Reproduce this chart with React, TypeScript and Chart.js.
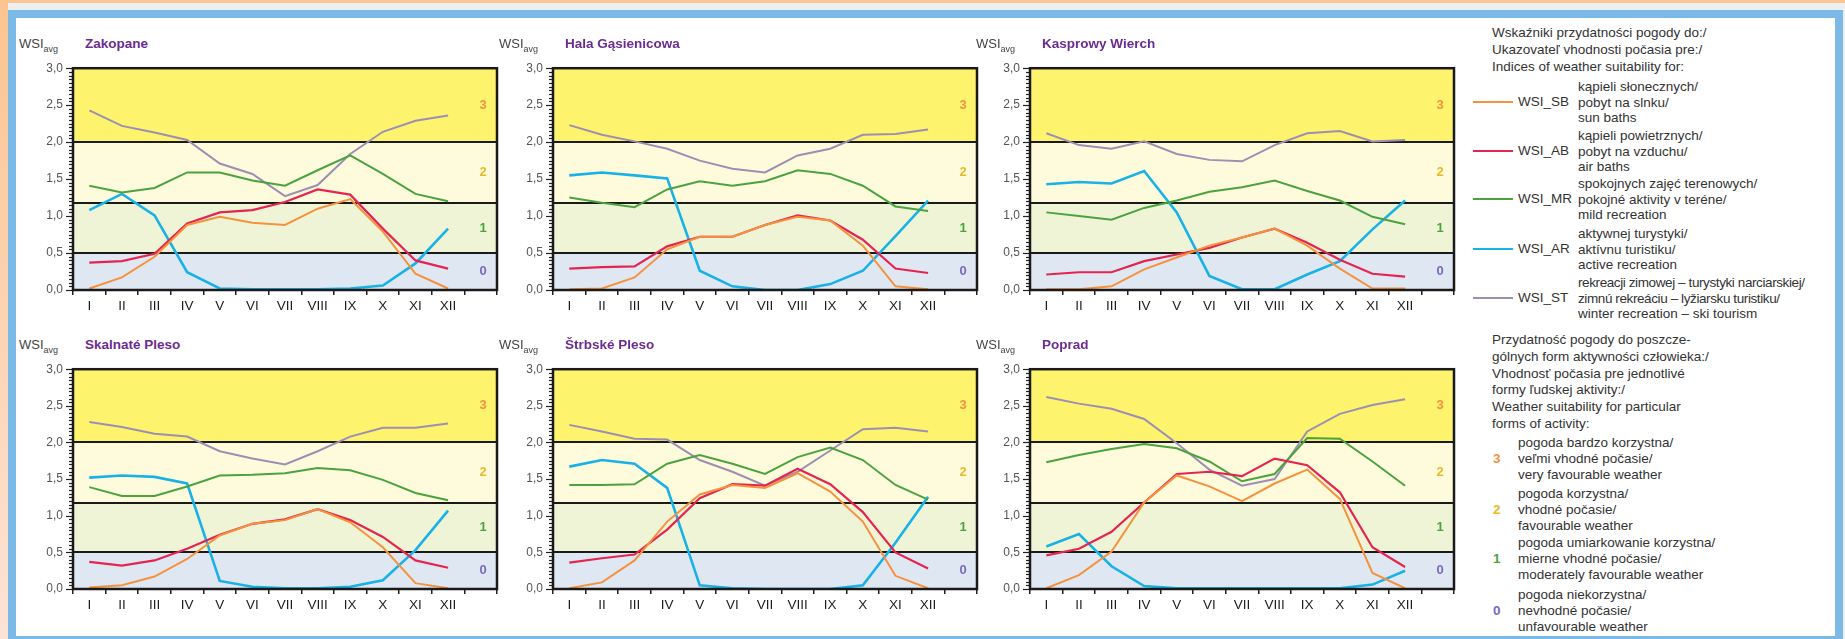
import React, { useEffect, useRef } from 'react';
import { Chart, registerables } from 'chart.js';

Chart.register(...registerables);

// ---------- data ----------
const months = ['I', 'II', 'III', 'IV', 'V', 'VI', 'VII', 'VIII', 'IX', 'X', 'XI', 'XII', ''];
const bandEdges = [0, 0.5, 1.17, 2.0, 3.0];
const bandLabels = ['0', '1', '2', '3'];
const seriesNames = ['WSI_SB', 'WSI_AB', 'WSI_MR', 'WSI_AR', 'WSI_ST'];

const zakopaneSB = [0.02, 0.17, 0.45, 0.88, 0.99, 0.91, 0.88, 1.10, 1.23, 0.79, 0.22, 0.02];
const zakopaneAB = [0.37, 0.39, 0.49, 0.90, 1.05, 1.08, 1.19, 1.36, 1.29, 0.83, 0.40, 0.29];
const zakopaneMR = [1.41, 1.32, 1.38, 1.59, 1.59, 1.48, 1.41, 1.62, 1.82, 1.57, 1.30, 1.20];
const zakopaneAR = [1.08, 1.30, 1.01, 0.24, 0.02, 0.01, 0.01, 0.01, 0.02, 0.06, 0.36, 0.83];
const zakopaneST = [2.43, 2.22, 2.13, 2.03, 1.71, 1.57, 1.27, 1.42, 1.84, 2.14, 2.29, 2.36];

const halaSB = [0.01, 0.02, 0.17, 0.55, 0.72, 0.72, 0.88, 0.99, 0.94, 0.60, 0.05, 0.01];
const halaAB = [0.29, 0.31, 0.32, 0.59, 0.72, 0.72, 0.88, 1.01, 0.94, 0.68, 0.29, 0.23];
const halaMR = [1.25, 1.18, 1.12, 1.36, 1.47, 1.41, 1.47, 1.62, 1.57, 1.41, 1.13, 1.07];
const halaAR = [1.55, 1.59, 1.55, 1.51, 0.26, 0.05, 0.00, 0.00, 0.08, 0.26, 0.73, 1.21];
const halaST = [2.23, 2.10, 2.01, 1.91, 1.75, 1.64, 1.59, 1.82, 1.91, 2.10, 2.11, 2.17];

const kasprowySB = [0.01, 0.01, 0.05, 0.28, 0.44, 0.60, 0.71, 0.83, 0.60, 0.29, 0.02, 0.02];
const kasprowyAB = [0.21, 0.24, 0.24, 0.39, 0.48, 0.57, 0.71, 0.83, 0.64, 0.41, 0.22, 0.18];
const kasprowyMR = [1.05, 1.00, 0.95, 1.11, 1.21, 1.33, 1.39, 1.48, 1.34, 1.21, 0.99, 0.89];
const kasprowyAR = [1.43, 1.46, 1.44, 1.61, 1.05, 0.19, 0.01, 0.01, 0.21, 0.39, 0.82, 1.21];
const kasprowyST = [2.12, 1.96, 1.91, 2.01, 1.84, 1.76, 1.74, 1.96, 2.12, 2.15, 2.01, 2.03];

const skalnateSB = [0.02, 0.05, 0.17, 0.41, 0.73, 0.89, 0.94, 1.09, 0.91, 0.57, 0.08, 0.01];
const skalnateAB = [0.37, 0.32, 0.39, 0.55, 0.74, 0.89, 0.95, 1.09, 0.94, 0.71, 0.39, 0.29];
const skalnateMR = [1.39, 1.27, 1.27, 1.40, 1.55, 1.56, 1.58, 1.65, 1.62, 1.49, 1.31, 1.21];
const skalnateAR = [1.52, 1.55, 1.53, 1.44, 0.11, 0.03, 0.01, 0.01, 0.03, 0.12, 0.53, 1.07];
const skalnateST = [2.28, 2.21, 2.12, 2.08, 1.88, 1.78, 1.70, 1.88, 2.08, 2.20, 2.20, 2.26];

const strbskeSB = [0.01, 0.09, 0.39, 0.92, 1.29, 1.42, 1.38, 1.58, 1.33, 0.92, 0.18, 0.01];
const strbskeAB = [0.36, 0.42, 0.47, 0.81, 1.24, 1.43, 1.41, 1.64, 1.43, 1.05, 0.50, 0.28];
const strbskeMR = [1.42, 1.42, 1.43, 1.71, 1.83, 1.71, 1.57, 1.80, 1.93, 1.76, 1.42, 1.22];
const strbskeAR = [1.67, 1.76, 1.71, 1.38, 0.05, 0.01, 0.00, 0.00, 0.00, 0.05, 0.63, 1.26];
const strbskeST = [2.24, 2.15, 2.05, 2.04, 1.76, 1.60, 1.41, 1.60, 1.89, 2.18, 2.20, 2.15];

const popradSB = [0.01, 0.19, 0.51, 1.18, 1.55, 1.40, 1.20, 1.44, 1.63, 1.23, 0.22, 0.01];
const popradAB = [0.46, 0.55, 0.78, 1.18, 1.57, 1.60, 1.54, 1.78, 1.69, 1.32, 0.57, 0.30];
const popradMR = [1.73, 1.83, 1.91, 1.98, 1.92, 1.74, 1.47, 1.57, 2.06, 2.05, 1.74, 1.41];
const popradAR = [0.58, 0.75, 0.31, 0.04, 0.01, 0.01, 0.01, 0.01, 0.01, 0.01, 0.06, 0.25];
const popradST = [2.62, 2.53, 2.46, 2.32, 1.99, 1.63, 1.41, 1.50, 2.15, 2.39, 2.51, 2.59];

const stationNames = ['Zakopane', 'Hala Gąsienicowa', 'Kasprowy Wierch', 'Skalnaté Pleso', 'Štrbské Pleso', 'Poprad'];

// ---------- styles ----------
const FONT = '"Liberation Sans", Arial, sans-serif';
const seriesColors = ['#f5923e', '#e5254f', '#4ba33f', '#19b2e6', '#9d8fb3'];
const seriesWidths = [2, 2.2, 2, 2.6, 2];
const bandColors = ['#dfe7f3', '#eff4d6', '#fefbdc', '#fdf36c'];
const bandLabelColors = ['#7a68c0', '#4ba33f', '#e9bb22', '#f5923e'];

const stations = [
  { name: stationNames[0], series: [zakopaneSB, zakopaneAB, zakopaneMR, zakopaneAR, zakopaneST] },
  { name: stationNames[1], series: [halaSB, halaAB, halaMR, halaAR, halaST] },
  { name: stationNames[2], series: [kasprowySB, kasprowyAB, kasprowyMR, kasprowyAR, kasprowyST] },
  { name: stationNames[3], series: [skalnateSB, skalnateAB, skalnateMR, skalnateAR, skalnateST] },
  { name: stationNames[4], series: [strbskeSB, strbskeAB, strbskeMR, strbskeAR, strbskeST] },
  { name: stationNames[5], series: [popradSB, popradAB, popradMR, popradAR, popradST] },
];

const colLefts = [73, 553, 1030];
const rowTops = [66, 367];
const rowHeights = [224, 222];
const PLOT_W = 424;
const YW = 56;
const PADT = 8;
const PADR = 4;
const XH = 28;

const bandPlugin = {
  id: 'bands',
  beforeDatasetsDraw(chart: any) {
    const { ctx, chartArea: a, scales } = chart;
    const y = scales.y;
    ctx.save();
    for (let i = 0; i < bandColors.length; i++) {
      const y0 = y.getPixelForValue(bandEdges[i]);
      const y1 = y.getPixelForValue(bandEdges[i + 1]);
      ctx.fillStyle = bandColors[i];
      ctx.fillRect(a.left, y1, a.right - a.left, y0 - y1);
    }
    ctx.strokeStyle = '#1a1a1a';
    ctx.lineWidth = 2;
    for (let i = 1; i < bandEdges.length - 1; i++) {
      const py = Math.round(y.getPixelForValue(bandEdges[i]));
      ctx.beginPath();
      ctx.moveTo(a.left, py);
      ctx.lineTo(a.right, py);
      ctx.stroke();
    }
    ctx.font = `bold 13px ${FONT}`;
    ctx.textAlign = 'center';
    ctx.textBaseline = 'middle';
    for (let i = 0; i < bandLabels.length; i++) {
      const mid = (bandEdges[i] + bandEdges[i + 1]) / 2;
      ctx.fillStyle = bandLabelColors[i];
      ctx.fillText(bandLabels[i], a.right - 14, y.getPixelForValue(mid));
    }
    // y minor / major ticks
    ctx.strokeStyle = '#222';
    ctx.lineWidth = 1.2;
    for (let k = 0; k <= 60; k++) {
      const v = k * 0.05;
      const py = Math.round(y.getPixelForValue(v)) + 0.5;
      const len = k % 10 === 0 ? 7 : 4;
      ctx.beginPath();
      ctx.moveTo(a.left - len, py);
      ctx.lineTo(a.left, py);
      ctx.stroke();
    }
    ctx.restore();
  },
  afterDatasetsDraw(chart: any) {
    const { ctx, chartArea: a } = chart;
    ctx.save();
    ctx.strokeStyle = '#1a1a1a';
    ctx.lineWidth = 2.5;
    ctx.strokeRect(a.left, a.top, a.right - a.left, a.bottom - a.top);
    ctx.restore();
  },
};

function Panel({ station, left, top, height }: { station: any; left: number; top: number; height: number }) {
  const ref = useRef<HTMLCanvasElement | null>(null);
  const cw = YW + PLOT_W + PADR;
  const ch = PADT + height + XH;
  useEffect(() => {
    const canvas = ref.current!;
    const chart = new Chart(canvas, {
      type: 'line',
      data: {
        labels: months,
        datasets: station.series.map((s: number[], i: number) => ({
          label: seriesNames[i],
          data: s,
          borderColor: seriesColors[i],
          backgroundColor: seriesColors[i],
          borderWidth: seriesWidths[i],
          pointRadius: 0,
          tension: 0,
          fill: false,
        })),
      },
      options: {
        animation: false,
        responsive: false,
        maintainAspectRatio: false,
        layout: { padding: { top: PADT, right: PADR, left: 0, bottom: 0 } },
        plugins: { legend: { display: false }, tooltip: { enabled: false }, title: { display: false } },
        scales: {
          x: {
            type: 'category',
            offset: true,
            grid: { display: true, offset: true, drawOnChartArea: false, drawTicks: true, tickLength: 5, color: '#222', lineWidth: 1.5 },
            border: { display: false },
            ticks: { color: '#1e1e1e', font: { size: 13.5, family: FONT }, padding: 3, autoSkip: false, maxRotation: 0 },
            afterFit: (s: any) => { s.height = XH; },
          },
          y: {
            min: 0,
            max: 3,
            grid: { display: true, drawOnChartArea: false, drawTicks: true, tickLength: 7, color: 'rgba(0,0,0,0)' },
            border: { display: false },
            ticks: {
              stepSize: 0.5,
              color: '#555',
              font: { size: 12, family: FONT },
              padding: 3,
              callback: (v: any) => Number(v).toFixed(1).replace('.', ','),
            },
            afterFit: (s: any) => { s.width = YW; },
          },
        },
      } as any,
      plugins: [bandPlugin],
    });
    return () => chart.destroy();
  }, [station]);
  return (
    <>
      <canvas
        ref={ref}
        width={cw}
        height={ch}
        style={{ position: 'absolute', left: left - YW, top: top - PADT, width: cw, height: ch }}
      />
      <div style={{ position: 'absolute', left: left - 54, top: top - 29, font: `13px ${FONT}`, color: '#444', whiteSpace: 'nowrap', lineHeight: 1 }}>
        WSI<sub style={{ fontSize: 9 }}>avg</sub>
      </div>
      <div style={{ position: 'absolute', left: left + 12, top: top - 29, font: `bold 13.5px ${FONT}`, color: '#6b2c91', whiteSpace: 'nowrap', lineHeight: 1 }}>
        {station.name}
      </div>
    </>
  );
}

const headerLines1 = ['Wskaźniki przydatności pogody do:/', 'Ukazovateľ vhodnosti počasia pre:/', 'Indices of weather suitability for:'];
const legendDesc = [
  ['kąpieli słonecznych/', 'pobyt na slnku/', 'sun baths'],
  ['kąpieli powietrznych/', 'pobyt na vzduchu/', 'air baths'],
  ['spokojnych zajęć terenowych/', 'pokojné aktivity v teréne/', 'mild recreation'],
  ['aktywnej turystyki/', 'aktívnu turistiku/', 'active recreation'],
  ['rekreacji zimowej – turystyki narciarskiej/', 'zimnú rekreáciu – lyžiarsku turistiku/', 'winter recreation – ski tourism'],
];
const legendTops = [87, 136, 184, 234, 283];
const headerLines2 = [
  'Przydatność pogody do poszcze-',
  'gólnych form aktywności człowieka:/',
  'Vhodnosť počasia pre jednotlivé',
  'formy ľudskej aktivity:/',
  'Weather suitability for particular',
  'forms of activity:',
];
const classDesc = [
  ['pogoda bardzo korzystna/', 'veľmi vhodné počasie/', 'very favourable weather'],
  ['pogoda korzystna/', 'vhodné počasie/', 'favourable weather'],
  ['pogoda umiarkowanie korzystna/', 'mierne vhodné počasie/', 'moderately favourable weather'],
  ['pogoda niekorzystna/', 'nevhodné počasie/', 'unfavourable weather'],
];
const classNums = ['3', '2', '1', '0'];
const classColors = ['#f5923e', '#e9bb22', '#4ba33f', '#7a68c0'];
const classTops = [443, 494, 543, 595];

const txt = (s: string, x: number, yc: number, extra: any = {}) => (
  <div
    key={`${s}-${x}-${yc}`}
    style={{ position: 'absolute', left: x, top: yc - 8, font: `13.5px ${FONT}`, color: '#333', whiteSpace: 'nowrap', lineHeight: '16px', ...extra }}
  >
    {s}
  </div>
);

export default function App() {
  useEffect(() => {
    document.body.style.margin = '0';
  }, []);
  const LX = 1492;
  return (
    <div style={{ position: 'absolute', left: 0, top: 0, width: 1845, height: 639, overflow: 'hidden', background: '#eef0f0' }}>
      {/* peach frame */}
      <div style={{ position: 'absolute', left: 0, top: 0, width: 1845, height: 3, background: '#fcc490' }} />
      <div style={{ position: 'absolute', left: 0, top: 0, width: 8, height: 639, background: 'linear-gradient(#fcc490, #fde3d6)' }} />
      {/* blue frame */}
      <div style={{ position: 'absolute', left: 8, top: 10, width: 1835 - 16, height: 618, border: '8px solid #7bbae6', background: '#ffffff' }} />
      {stations.map((st, i) => (
        <Panel key={st.name} station={st} left={colLefts[i % 3]} top={rowTops[Math.floor(i / 3)]} height={rowHeights[Math.floor(i / 3)]} />
      ))}
      {headerLines1.map((s, i) => txt(s, LX, 33 + i * 17))}
      {legendDesc.map((lines, i) => (
        <React.Fragment key={seriesNames[i]}>
          <div style={{ position: 'absolute', left: 1473, top: legendTops[i] + 14, width: 40, height: 2, background: seriesColors[i] }} />
          {txt(seriesNames[i], 1518, legendTops[i] + 15)}
          {lines.map((l, j) => txt(l, 1578, legendTops[i] + j * 15.5, i === 4 && j < 2 ? { letterSpacing: '-0.4px' } : {}))}
        </React.Fragment>
      ))}
      {headerLines2.map((s, i) => txt(s, LX, 340 + i * 16.8))}
      {classDesc.map((lines, i) => (
        <React.Fragment key={classNums[i]}>
          {txt(classNums[i], 1493, classTops[i] + 16, { color: classColors[i], fontWeight: 'bold' })}
          {lines.map((l, j) => txt(l, 1518, classTops[i] + j * 16))}
        </React.Fragment>
      ))}
    </div>
  );
}
